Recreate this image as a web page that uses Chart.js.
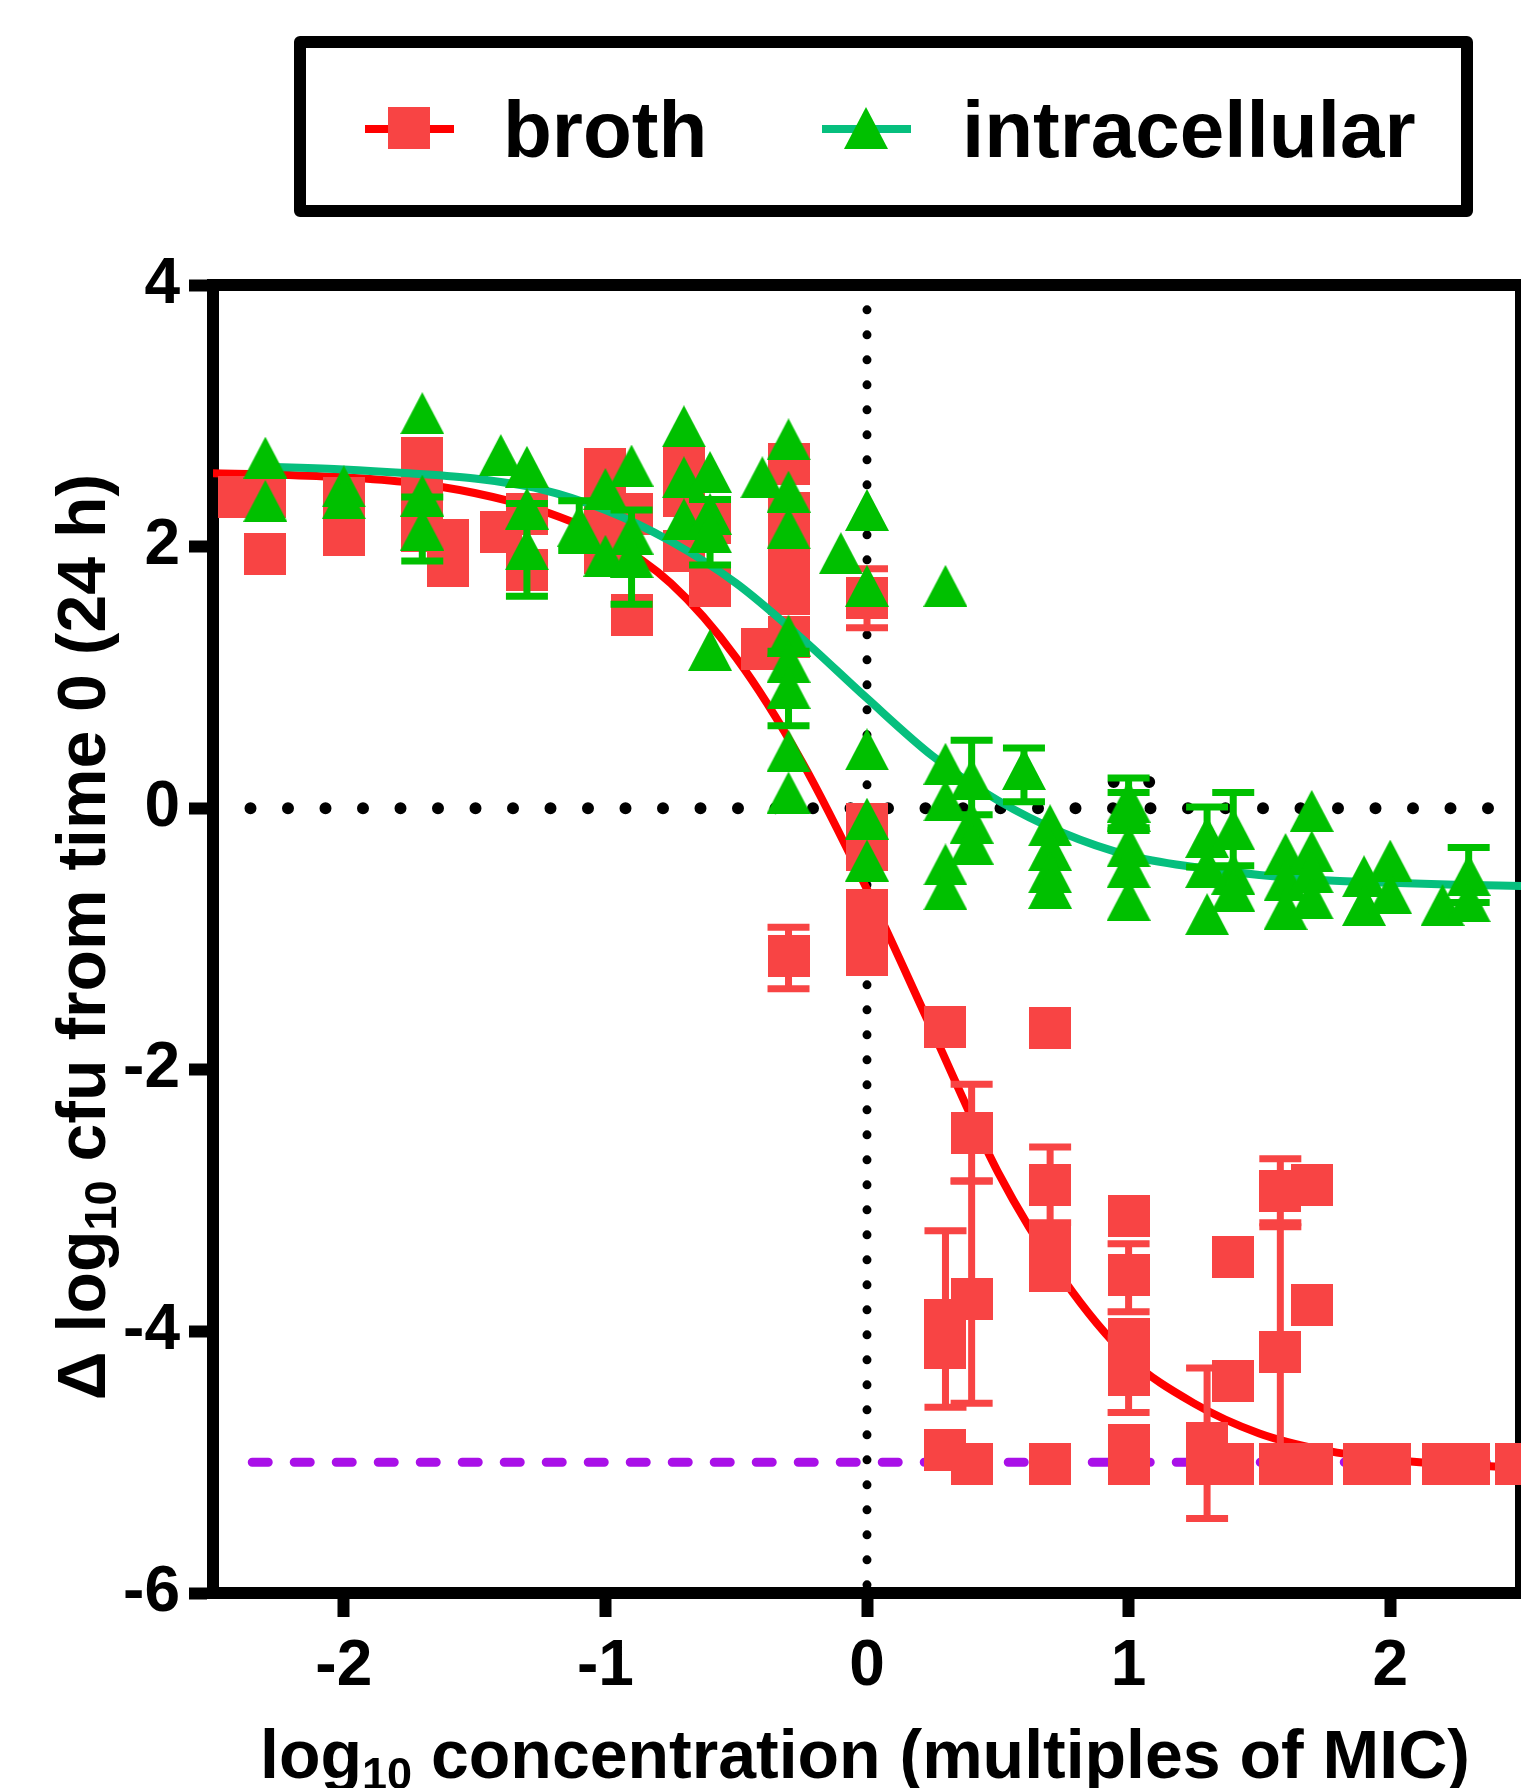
<!DOCTYPE html>
<html>
<head>
<meta charset="utf-8">
<script src="https://cdn.jsdelivr.net/npm/chart.js@4"></script>
<style>
  html, body { margin: 0; padding: 0; background: #fff; }
  canvas { display: block; }
</style>
</head>
<body>
<canvas id="myChart" width="1521" height="1788"></canvas>
<script>
// broth: individual points (red squares), grouped by concentration
const brothX = [
  -2.4,
  -2.3, -2.3,
  -2.0, -2.0,
  -1.7, -1.7, -1.7,
  -1.6, -1.6,
  -1.4,
  -1.3, -1.3,
  -1.0, -1.0, -1.0,
  -0.9, -0.9,
  -0.7, -0.7, -0.7,
  -0.6, -0.6,
  -0.4,
  -0.3, -0.3, -0.3, -0.3, -0.3, -0.3,
  0, 0, 0, 0, 0,
  0.3, 0.3, 0.3, 0.3,
  0.4, 0.4, 0.4,
  0.7, 0.7, 0.7, 0.7, 0.7,
  1.0, 1.0, 1.0, 1.0, 1.0, 1.0,
  1.3, 1.3,
  1.4, 1.4, 1.4,
  1.58, 1.58, 1.58,
  1.7, 1.7, 1.7,
  1.9, 2.0, 2.2, 2.3, 2.48
];
const brothY = [
  2.38,
  2.38, 1.94,
  2.37, 2.09,
  2.68, 2.43, 2.12,
  2.05, 1.85,
  2.11,
  2.25, 1.82,
  2.59, 2.27, 1.95,
  2.25, 1.48,
  2.61, 2.39, 1.97,
  2.18, 1.70,
  1.22,
  2.63, 2.26, 1.95, 1.64, 1.31, -1.13,
  1.61, -0.12, -0.32, -0.78, -1.12,
  -1.67, -3.91, -4.13, -4.91,
  -2.48, -3.75, -5.01,
  -1.68, -2.88, -3.32, -3.54, -5.01,
  -3.12, -3.57, -4.06, -4.33, -4.87, -5.01,
  -4.85, -5.01,
  -3.43, -4.38, -5.01,
  -2.93, -4.16, -5.01,
  -2.88, -3.80, -5.01,
  -5.01, -5.01, -5.01, -5.01, -5.01
];
const brothErrX  = [0, -0.3, 0, 0.3, 0.4, 0.4, 0.7, 1.0, 1.0, 1.3, 1.58, 1.58];
const brothErrLo = [1.38, -1.38, -0.95, -4.58, -2.85, -4.55, -3.17, -3.85, -4.62, -5.43, -3.17, -5.05];
const brothErrHi = [1.83, -0.91, -0.65, -3.23, -2.11, -2.85, -2.59, -3.33, -4.05, -4.28, -2.68, -3.20];

// intracellular: individual points (green triangles)
const cellX = [
  -2.3, -2.3,
  -2.0, -2.0,
  -1.7, -1.7, -1.7,
  -1.4,
  -1.3, -1.3, -1.3,
  -1.1,
  -1.0, -1.0,
  -0.9, -0.9, -0.9,
  -0.7, -0.7, -0.7,
  -0.6, -0.6, -0.6, -0.6,
  -0.4,
  -0.3, -0.3, -0.3, -0.3, -0.3, -0.3, -0.3, -0.3,
  -0.1,
  0, 0, 0, 0, 0,
  0.3, 0.3, 0.3, 0.3, 0.3,
  0.4, 0.4, 0.4,
  0.6,
  0.7, 0.7, 0.7, 0.7,
  1.0, 1.0, 1.0, 1.0, 1.0,
  1.3, 1.3, 1.3,
  1.4, 1.4, 1.4,
  1.6, 1.6, 1.6,
  1.7, 1.7, 1.7, 1.7,
  1.9, 1.9,
  2.0, 2.0,
  2.2,
  2.3, 2.3
];
const cellY = [
  2.68, 2.35,
  2.46, 2.37,
  3.02, 2.39, 2.13,
  2.70,
  2.61, 2.29, 1.98,
  2.16,
  2.44, 1.93,
  2.62, 2.10, 1.92,
  2.92, 2.53, 2.21,
  2.57, 2.25, 2.11, 1.21,
  2.53,
  2.82, 2.42, 2.14, 1.32, 1.12, 0.92, 0.44, 0.12,
  1.95,
  2.28, 1.70, 0.45, -0.08, -0.40,
  1.70, 0.34, 0.06, -0.43, -0.62,
  0.22, -0.11, -0.27,
  0.30,
  -0.13, -0.32, -0.49, -0.61,
  0.05, -0.02, -0.29, -0.45, -0.70,
  -0.22, -0.45, -0.81,
  -0.16, -0.50, -0.63,
  -0.35, -0.55, -0.77,
  -0.02, -0.33, -0.49, -0.69,
  -0.52, -0.74,
  -0.40, -0.65,
  -0.74,
  -0.51, -0.71
];
const cellErrX  = [-1.7, -1.3, -1.1, -0.9, -0.6, -0.3, 0.4, 0.6, 1.0, 1.0, 1.3, 1.4, 2.3];
const cellErrLo = [1.89, 1.62, 1.97, 1.56, 1.86, 0.63, -0.05, 0.05, -0.17, -0.15, -0.45, -0.44, -0.72];
const cellErrHi = [2.38, 2.33, 2.35, 2.28, 2.36, 1.20, 0.52, 0.46, 0.23, 0.12, 0.01, 0.12, -0.30];

// fitted curves
const brothFitX = [-2.5, -2.25, -2.0, -1.75, -1.5, -1.25, -1.0, -0.75, -0.5, -0.25, 0, 0.25, 0.5, 0.75, 1.0, 1.25, 1.5, 1.75, 2.0, 2.25, 2.5];
const brothFitY = [2.56, 2.55, 2.53, 2.49, 2.41, 2.28, 2.07, 1.72, 1.15, 0.36, -0.62, -1.70, -2.78, -3.60, -4.20, -4.55, -4.78, -4.91, -4.98, -5.02, -5.04];
const cellFitX = [-2.3, -2.0, -1.75, -1.5, -1.25, -1.0, -0.75, -0.5, -0.25, 0, 0.25, 0.5, 0.75, 1.0, 1.25, 1.5, 1.75, 2.0, 2.25, 2.5];
const cellFitY = [2.61, 2.59, 2.56, 2.52, 2.44, 2.28, 2.04, 1.72, 1.30, 0.84, 0.40, 0.06, -0.19, -0.36, -0.45, -0.51, -0.55, -0.57, -0.585, -0.595];

// reference lines
const zeroLineX = [-2.5, 2.38];
const micLineY = [3.81, -5.94];
const limitLineX = [-2.35, 2.45];
const limitValue = -5;
const stubX = [0.943, 1.211];
const stubValue = 0.2;

const xTicks = [-2, -1, 0, 1, 2];
const yTicks = [-6, -4, -2, 0, 2, 4];
const seriesLabels = ['broth', 'intracellular'];
const xTitleParts = [['log', 0], ['10', 1], [' concentration (multiples of MIC)', 0]];
const yTitleParts = [['\u0394 log', 0], ['10', 1], [' cfu from time 0 (24 h)', 0]];

const FONT = '"Liberation Sans", Arial, sans-serif';
const SQUARE_COLOR = '#f84444';
const RED_LINE = '#ff0000';
const TRI_COLOR = '#00c000';
const TEAL_LINE = '#06bf7e';
const PURPLE = '#a910e8';

function makeSquare(color) {
  const c = document.createElement('canvas');
  c.width = 42; c.height = 42;
  const g = c.getContext('2d');
  g.fillStyle = color;
  g.fillRect(0, 0, 42, 42);
  return c;
}
function makeTriangle(color) {
  const c = document.createElement('canvas');
  c.width = 44; c.height = 42;
  const g = c.getContext('2d');
  g.fillStyle = color;
  g.beginPath();
  g.moveTo(22, 0); g.lineTo(44, 42); g.lineTo(0, 42);
  g.closePath(); g.fill();
  return c;
}
const squareImg = makeSquare(SQUARE_COLOR);
const triImg = makeTriangle(TRI_COLOR);

const zip = (xs, ys) => xs.map((x, i) => ({ x: x, y: ys[i] }));

// error bars, drawn through the chart scales
const errorBars = {
  id: 'errorBars',
  beforeDatasetDraw(chart, args) {
    const ds = chart.data.datasets[args.index];
    if (!ds.errors) return;
    const { ctx, scales: { x, y } } = chart;
    ctx.save();
    ctx.strokeStyle = ds.errors.color;
    ctx.lineWidth = 7;
    ds.errors.x.forEach((v, i) => {
      const px = x.getPixelForValue(v);
      const lo = y.getPixelForValue(ds.errors.lo[i]);
      const hi = y.getPixelForValue(ds.errors.hi[i]);
      ctx.beginPath();
      ctx.moveTo(px, lo); ctx.lineTo(px, hi);
      ctx.moveTo(px - 21, lo); ctx.lineTo(px + 21, lo);
      ctx.moveTo(px - 21, hi); ctx.lineTo(px + 21, hi);
      ctx.stroke();
    });
    ctx.restore();
  }
};

// top and right sides of the frame
const frame = {
  id: 'frame',
  beforeDatasetsDraw(chart) {
    const { ctx, chartArea: a } = chart;
    ctx.save();
    ctx.strokeStyle = '#000';
    ctx.lineWidth = 12;
    ctx.beginPath();
    ctx.moveTo(a.left - 6, a.top);
    ctx.lineTo(a.right, a.top);
    ctx.moveTo(a.right, a.top - 6);
    ctx.lineTo(a.right, a.bottom + 6);
    ctx.stroke();
    ctx.restore();
  }
};

function drawRich(ctx, parts, x, y) {
  const fontFor = p => p[1] ? `bold 45px ${FONT}` : `bold 68px ${FONT}`;
  let w = 0;
  parts.forEach(p => { ctx.font = fontFor(p); w += ctx.measureText(p[0]).width; });
  let cx = x - w / 2;
  parts.forEach(p => {
    ctx.font = fontFor(p);
    ctx.fillText(p[0], cx, y + (p[1] ? 11 : 0));
    cx += ctx.measureText(p[0]).width;
  });
}

// axis titles (with subscripts) and boxed legend
const decorations = {
  id: 'decorations',
  afterDraw(chart) {
    const { ctx, chartArea: a } = chart;
    ctx.save();
    ctx.fillStyle = '#000';
    ctx.textAlign = 'left';
    ctx.textBaseline = 'alphabetic';
    drawRich(ctx, xTitleParts, (a.left + a.right) / 2 - 2, 1778);
    ctx.save();
    ctx.translate(105, 937);
    ctx.rotate(-Math.PI / 2);
    drawRich(ctx, yTitleParts, 0, 0);
    ctx.restore();

    // legend box
    ctx.strokeStyle = '#000';
    ctx.lineWidth = 12;
    ctx.lineJoin = 'round';
    ctx.strokeRect(300, 42, 1167, 169);

    ctx.lineWidth = 8;
    ctx.strokeStyle = RED_LINE;
    ctx.beginPath(); ctx.moveTo(365, 129); ctx.lineTo(454, 129); ctx.stroke();
    ctx.drawImage(squareImg, 388, 107);
    ctx.strokeStyle = TEAL_LINE;
    ctx.beginPath(); ctx.moveTo(822, 129); ctx.lineTo(911, 129); ctx.stroke();
    ctx.drawImage(triImg, 844, 107);

    ctx.font = `bold 80px ${FONT}`;
    ctx.fillText(seriesLabels[0], 503, 157);
    ctx.fillText(seriesLabels[1], 962, 157);
    ctx.restore();
  }
};

Chart.defaults.font.family = FONT;
Chart.defaults.color = '#000';

const ctx = document.getElementById('myChart').getContext('2d');
window.myChart = new Chart(ctx, {
  type: 'scatter',
  data: {
    datasets: [
      {
        label: seriesLabels[1],
        data: zip(cellX, cellY),
        pointStyle: triImg,
        pointRadius: 21,
        showLine: false,
        order: 1,
        errors: { x: cellErrX, lo: cellErrLo, hi: cellErrHi, color: TRI_COLOR }
      },
      {
        label: 'intracellular fit',
        data: zip(cellFitX, cellFitY),
        showLine: true,
        borderColor: TEAL_LINE,
        borderWidth: 8,
        pointRadius: 0,
        cubicInterpolationMode: 'monotone',
        order: 2
      },
      {
        label: seriesLabels[0],
        data: zip(brothX, brothY),
        pointStyle: squareImg,
        pointRadius: 21,
        showLine: false,
        order: 3,
        errors: { x: brothErrX, lo: brothErrLo, hi: brothErrHi, color: SQUARE_COLOR }
      },
      {
        label: 'broth fit',
        data: zip(brothFitX, brothFitY),
        showLine: true,
        borderColor: RED_LINE,
        borderWidth: 8,
        pointRadius: 0,
        cubicInterpolationMode: 'monotone',
        order: 4
      },
      {
        label: 'limit',
        data: limitLineX.map(x => ({ x: x, y: limitValue })),
        showLine: true,
        borderColor: PURPLE,
        borderWidth: 9,
        borderCapStyle: 'round',
        borderDash: [16, 26],
        pointRadius: 0,
        order: 5
      },
      {
        label: 'zero',
        data: zeroLineX.map(x => ({ x: x, y: 0 })),
        showLine: true,
        borderColor: '#000',
        borderWidth: 12,
        borderCapStyle: 'round',
        borderDash: [0, 37.5],
        pointRadius: 0,
        order: 6
      },
      {
        label: 'stub',
        data: stubX.map(x => ({ x: x, y: stubValue })),
        showLine: true,
        borderColor: '#000',
        borderWidth: 12,
        borderCapStyle: 'round',
        borderDash: [0, 35.5],
        pointRadius: 0,
        order: 6
      },
      {
        label: 'MIC',
        data: micLineY.map(y => ({ x: 0, y: y })),
        showLine: true,
        borderColor: '#000',
        borderWidth: 9,
        borderCapStyle: 'round',
        borderDash: [0, 25],
        pointRadius: 0,
        order: 6
      }
    ]
  },
  options: {
    responsive: false,
    animation: false,
    devicePixelRatio: 1,
    events: [],
    layout: { autoPadding: false, padding: { top: 285, left: 0, right: 0, bottom: 0 } },
    plugins: {
      legend: { display: false },
      tooltip: { enabled: false }
    },
    scales: {
      x: {
        type: 'linear',
        min: -2.5,
        max: 2.5,
        afterBuildTicks: s => { s.ticks = xTicks.map(v => ({ value: v })); },
        afterFit: s => { s.height = 195; },
        border: { display: true, color: '#000', width: 12 },
        grid: { drawOnChartArea: false, drawTicks: true, tickLength: 24, tickWidth: 12, tickColor: '#000' },
        ticks: { color: '#000', font: { size: 64, weight: 'bold' }, padding: 12, maxRotation: 0, autoSkip: false }
      },
      y: {
        type: 'linear',
        min: -6,
        max: 4,
        afterBuildTicks: s => { s.ticks = yTicks.map(v => ({ value: v })); },
        afterFit: s => { s.width = 213; },
        border: { display: true, color: '#000', width: 12 },
        grid: { drawOnChartArea: false, drawTicks: true, tickLength: 24, tickWidth: 12, tickColor: '#000' },
        ticks: { color: '#000', font: { size: 64, weight: 'bold' }, padding: 9, autoSkip: false }
      }
    }
  },
  plugins: [errorBars, frame, decorations]
});
</script>
</body>
</html>
